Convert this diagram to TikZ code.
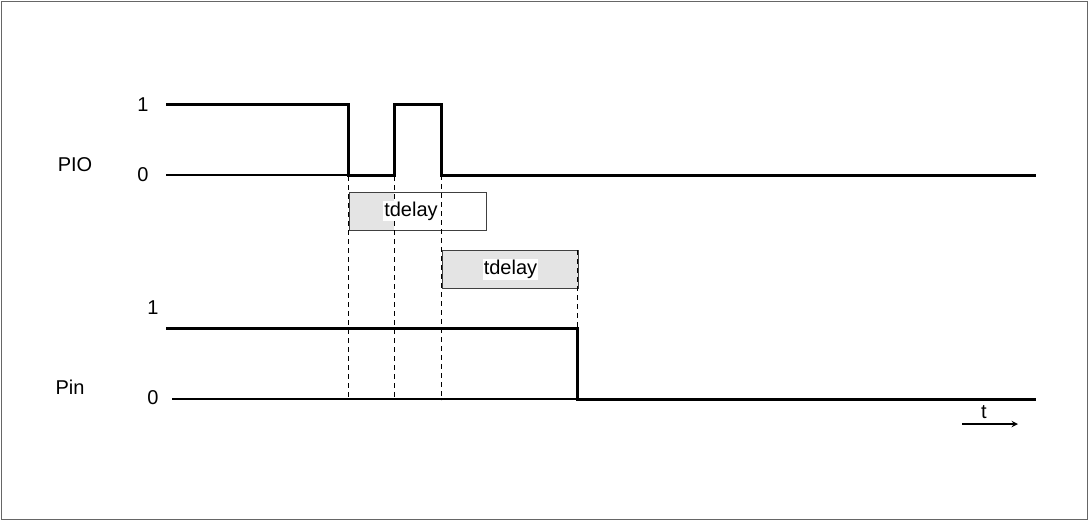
\documentclass[tikz,border=0pt]{standalone}
\usepackage{fontspec}
\setmainfont{Liberation Sans}
\usetikzlibrary{positioning}
\definecolor{boxgray}{HTML}{E4E4E4}

\begin{document}
\begin{tikzpicture}[x=1pt,y=-1pt,font=\fontsize{20}{24}\selectfont,
  sig/.style={line width=3pt},
  base/.style={line width=1.1pt},
  guide/.style={line width=0.9pt,dash pattern=on 5pt off 4pt},
  delaybox/.style={draw=black!75,line width=0.9pt,minimum height=38pt,inner sep=0pt}]
\useasboundingbox (0,0) rectangle (1088,520);
\draw[black!60,line width=0.8pt] (1,1) rectangle (1087,519);

% labels
\node (pio) at (75,165) {PIO};
\node (pio1) at (143,105) {1};
\node (pio0) at (143,175) {0};
\node (pin) at (70,387) {Pin};
\node (pin1) at (153,308) {1};
\node (pin0) at (153,398) {0};

% PIO signal
\draw[base] (166,175) -- (348,175);
\draw[sig] (166,104) -- (348,104) -- (348,175) -- (394,175) -- (394,104)
  -- (441,104) -- (441,175) -- (1036,175);

% Pin signal
\draw[base] (172,399) -- (577,399);
\draw[sig] (166,328) -- (577,328) -- (577,399) -- (1036,399);

% delay boxes
\fill[white] (349,192) rectangle (486,230);
\fill[boxgray] (349,192) rectangle (394,230);
\draw[black!75,line width=0.9pt] (349,192) rectangle (486,230);
\node[delaybox,fill=boxgray,minimum width=136pt,anchor=north west] (d2) at (442,250) {};

% guides
\foreach \x/\y in {348/104,394/104,441/175}
  \draw[guide] (\x,\y) -- (\x,400);
\draw[guide] (577,250) -- (577,328);

\node[fill=white,inner sep=1pt] (t1) at (411,211) {tdelay};
\node[fill=white,inner sep=1pt] (t2) at (d2.center) {tdelay};

% time arrow
\node (t) at (984,412) {t};
\coordinate (ta) at (962,424);
\coordinate (tb) at (1018,424);
\draw[line width=1.8pt,-stealth] (ta) -- (tb);
\end{tikzpicture}
\end{document}
